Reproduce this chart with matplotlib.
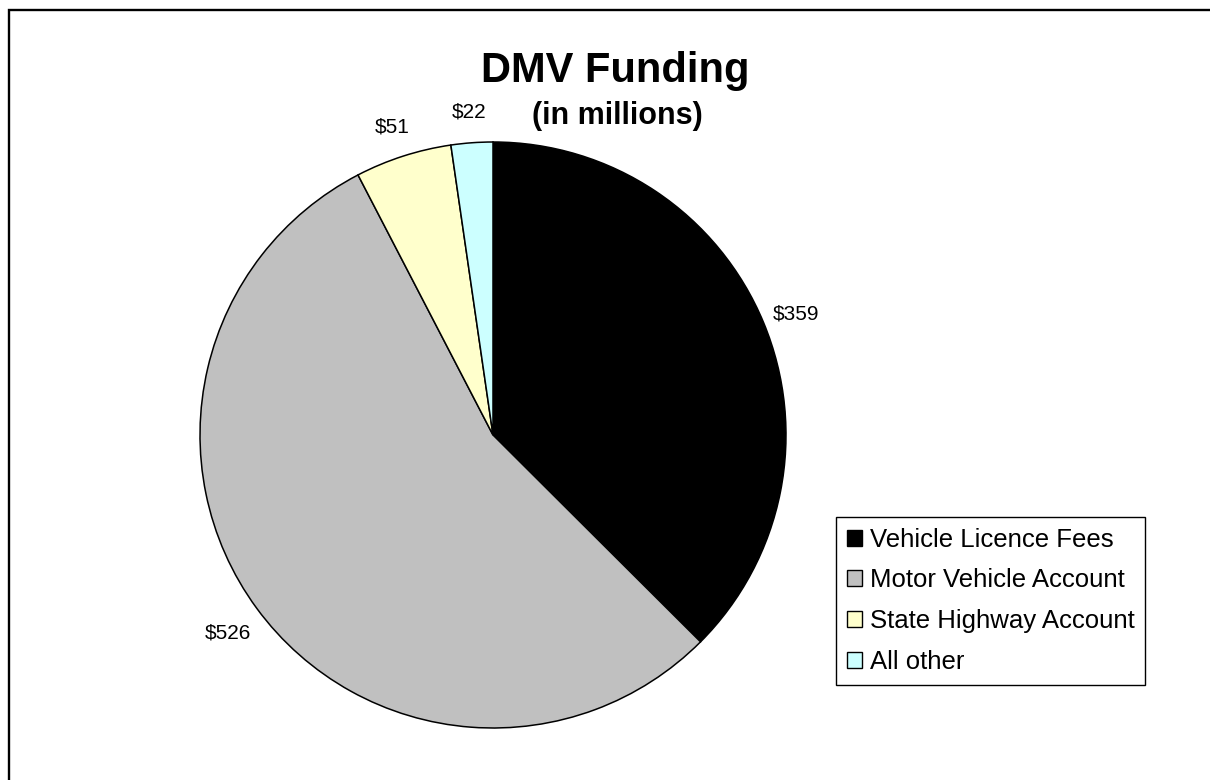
import numpy as np
import matplotlib
matplotlib.use("Agg")
import matplotlib.pyplot as plt
from matplotlib.patches import Rectangle

plt.rcParams['font.family'] = ['Liberation Sans', 'DejaVu Sans']

# data (in millions)
categories = ['Vehicle Licence Fees', 'Motor Vehicle Account',
              'State Highway Account', 'All other']
values = [359, 526, 51, 22]
colors = ['#000000', '#C0C0C0', '#FFFFCC', '#CCFFFF']

label_dist = 1.12

fig = plt.figure(figsize=(12.1, 7.8), dpi=100)
W, H = 1210, 780

# outer chart border
fig.patches.append(Rectangle((9 / W, -0.1), 1.2, 1.1 - 10 / H,
                             transform=fig.transFigure, fill=False,
                             edgecolor='black', linewidth=1.7))

cx, cy, r = 493, 435, 293
ax = fig.add_axes([(cx - r) / W, (H - cy - r) / H, 2 * r / W, 2 * r / H])
wedges, _ = ax.pie(values, colors=colors, startangle=90, counterclock=False,
                   radius=1, wedgeprops=dict(edgecolor='black', linewidth=1.1))
ax.set_xlim(-1, 1)
ax.set_ylim(-1, 1)
ax.set_aspect('equal')
ax.axis('off')

for w, v in zip(wedges, values):
    ang = np.deg2rad((w.theta1 + w.theta2) / 2)
    ax.text(label_dist * np.cos(ang), label_dist * np.sin(ang) - 0.015,
            '$%d' % v, ha='center', va='center', fontsize=15)

fig.text(615 / W, 1 - 82 / H, 'DMV Funding', ha='center', va='baseline',
         fontsize=30, fontweight='bold')
fig.text(617 / W, 1 - 124 / H, '(in millions)', ha='center', va='baseline',
         fontsize=22, fontweight='bold')

leg = fig.legend(wedges, categories, loc='upper left',
                 bbox_to_anchor=(836 / W, 1 - 517 / H),
                 bbox_transform=fig.transFigure, borderaxespad=0,
                 fontsize=18.5, handlelength=0.58, handleheight=0.58,
                 handletextpad=0.32, borderpad=0.42, labelspacing=0.65,
                 fancybox=False, framealpha=1, edgecolor='black')
leg.get_frame().set_linewidth(1.0)
for h in leg.legend_handles:
    h.set_edgecolor('black')
    h.set_linewidth(1.0)

fig.savefig('out.png', dpi=100)
